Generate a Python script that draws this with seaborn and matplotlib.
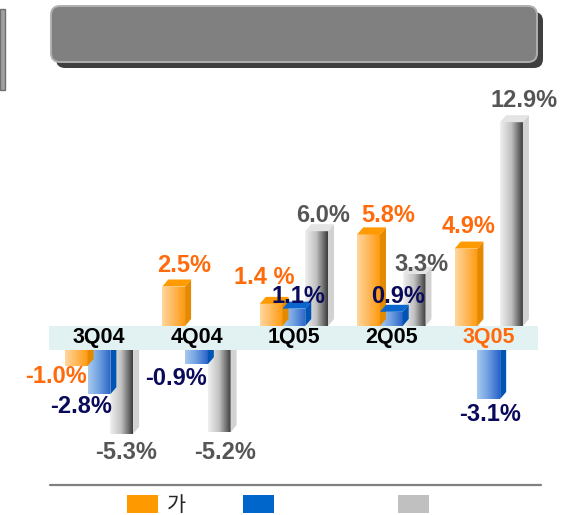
import numpy as np
import pandas as pd
import matplotlib
matplotlib.use("Agg")
import matplotlib.pyplot as plt
import seaborn as sns
from matplotlib.patches import Polygon, Rectangle, FancyBboxPatch, Patch
from matplotlib.colors import LinearSegmentedColormap
from matplotlib.lines import Line2D
from matplotlib.transforms import IdentityTransform

# ---------------- data ----------------
categories = ["3Q04", "4Q04", "1Q05", "2Q05", "3Q05"]
series_keys = ["s1", "s2", "s3"]
legend_names = ["가", "", ""]
orange_vals = [-1.0, 2.5, 1.4, 5.8, 4.9]
blue_vals = [-2.8, -0.9, 1.1, 0.9, -3.1]
gray_vals = [-5.3, -5.2, 6.0, 3.3, 12.9]
orange_labels = ["-1.0%", "2.5%", "1.4 %", "5.8%", "4.9%"]
blue_labels = ["-2.8%", "-0.9%", "1.1%", "0.9%", "-3.1%"]
gray_labels = ["-5.3%", "-5.2%", "6.0%", "3.3%", "12.9%"]

df = pd.DataFrame({
    "quarter": categories * 3,
    "series": np.repeat(series_keys, len(categories)),
    "value": orange_vals + blue_vals + gray_vals,
})
value_labels = [orange_labels, blue_labels, gray_labels]

# ---------------- style ----------------
sns.set_theme(style="white")
plt.rcParams["font.family"] = ["Liberation Sans", "Noto Sans CJK KR", "DejaVu Sans"]

W, H = 562, 515
fig = plt.figure(figsize=(W / 100, H / 100), dpi=100)
fig.patch.set_facecolor("white")

def fx(px):
    return px / W

def fy(py):
    return 1 - py / H

PX_PER_PCT = 15.8
AX_L, AX_R = 49, 538
ZERO_POS, ZERO_NEG = 326, 350
TOP_PX, BOT_PX = 89, 470
cat0_px, cat_step = 99.0, 97.45
xlim = (-(cat0_px - AX_L) / cat_step, 4 + (AX_R - (cat0_px + 4 * cat_step)) / cat_step)

ax_pos = fig.add_axes([fx(AX_L), fy(ZERO_POS), (AX_R - AX_L) / W, (ZERO_POS - TOP_PX) / H])
ax_neg = fig.add_axes([fx(AX_L), fy(BOT_PX), (AX_R - AX_L) / W, (BOT_PX - ZERO_NEG) / H])

front_cmaps = [
    LinearSegmentedColormap.from_list("o", ["#FFD79F", "#FFB85A", "#FF9A10"]),
    LinearSegmentedColormap.from_list("b", ["#A8CBEF", "#6E9EE0", "#2A62C8"]),
    LinearSegmentedColormap.from_list("g", ["#F0F0F0", "#C0C0C0", "#3C3C3C"]),
]
side_colors = ["#E48A00", "#0054B4", "#D2D2D2"]
top_colors = ["#FF9A00", "#0A66CC", "#E4E4E4"]
legend_colors = ["#FF9900", "#0066CC", "#C0C0C0"]
label_colors = ["#FF6A0A", "#0A0A5A", "#555555"]

# label nudges in pixels (dx, dy; dy positive = downward), relative to bar end
label_nudges = [
    [(-20, 11), (10, -21), (-7, -26), (20, -19), (3, -22)],
    [(-18, 12), (-20, 14), (5, -12), (7, -15), (1, 16)],
    [(4, 19), (6, 20), (6, -16), (7, -9), (13, -22)],
]

DX_PX, DY_PX = 6, 7
dxd = DX_PX / cat_step
dyd = DY_PX / PX_PER_PCT

for ax, sign in [(ax_pos, 1), (ax_neg, -1)]:
    sns.barplot(data=df, x="quarter", y="value", hue="series", order=categories,
                hue_order=series_keys, palette=legend_colors, width=0.70,
                saturation=1, legend=False, ax=ax, zorder=2)
    ax.patch.set_alpha(0)
    for s in ax.spines.values():
        s.set_visible(False)
    ax.set_yticks([])
    ax.set_xlabel("")
    ax.set_ylabel("")

    for si, cont in enumerate(ax.containers):
        for ci, bar in enumerate(cont.patches):
            h = bar.get_height()
            if h * sign <= 0:
                bar.set_visible(False)
                continue
            x, w = bar.get_x(), bar.get_width()
            bar.set_facecolor("none")
            bar.set_edgecolor("none")
            grad = np.linspace(0, 1, 128).reshape(1, -1)
            im = ax.imshow(grad, extent=[x, x + w, min(0, h), max(0, h)],
                           cmap=front_cmaps[si], aspect="auto", zorder=2,
                           interpolation="bilinear")
            im.set_clip_path(bar)
            if sign > 0:
                side = Polygon([(x + w, 0), (x + w + dxd, dyd), (x + w + dxd, h + dyd),
                                (x + w, h)], closed=True, facecolor=side_colors[si],
                               edgecolor="none", zorder=2.1)
                top = Polygon([(x, h), (x + dxd, h + dyd), (x + w + dxd, h + dyd),
                               (x + w, h)], closed=True, facecolor=top_colors[si],
                              edgecolor="none", zorder=2.1)
                ax.add_patch(side)
                ax.add_patch(top)
            else:
                side = Polygon([(x + w, 0), (x + w + dxd, 0), (x + w + dxd, h + dyd),
                                (x + w, h)], closed=True, facecolor=side_colors[si],
                               edgecolor="none", zorder=2.1)
                ax.add_patch(side)
            ndx, ndy = label_nudges[si][ci]
            ax.annotate(value_labels[si][ci], xy=(x + w / 2, h),
                        xytext=(ndx * 0.72, -ndy * 0.72), textcoords="offset points",
                        ha="center", va="center", fontsize=17, fontweight="bold",
                        color=label_colors[si], annotation_clip=False, zorder=5)
    ax.set_xlim(*xlim)
    if sign > 0:
        ax.set_ylim(0, (ZERO_POS - TOP_PX) / PX_PER_PCT)
    else:
        ax.set_ylim(-(BOT_PX - ZERO_NEG) / PX_PER_PCT, 0)

# category band (in ax_pos coordinates, below its bottom edge)
band_h = (ZERO_NEG - ZERO_POS) / (ZERO_POS - TOP_PX)
ax_pos.add_patch(Rectangle((0, -band_h), 1, band_h, transform=ax_pos.transAxes,
                           facecolor="#E2F2F2", edgecolor="none", clip_on=False, zorder=0.5))
ax_pos.tick_params(axis="x", length=0, pad=1, labelsize=15.5)
for lab in ax_pos.get_xticklabels():
    lab.set_fontweight("bold")
    lab.set_color("#FF6A0A" if lab.get_text() == "3Q05" else "black")
ax_neg.set_xticks([])

# title box
ident = IdentityTransform()
shadow = FancyBboxPatch((56, H - 68), 487, 56, boxstyle="round,pad=0,rounding_size=9",
                        transform=ident, facecolor="#3F3F3F", edgecolor="none")
face = FancyBboxPatch((51, H - 62), 486, 56, boxstyle="round,pad=0,rounding_size=9",
                      transform=ident, facecolor="#808080", edgecolor="#B0B0B0", linewidth=1.4)
fig.patches.extend([shadow, face])
fig.patches.append(Rectangle((0, H - 90), 5, 81, transform=ident,
                             facecolor="#A0A0A0", edgecolor="#707070", linewidth=1))

# bottom rule
fig.lines.append(Line2D([fx(50), fx(541)], [fy(485), fy(485)], transform=fig.transFigure,
                        color="#808080", linewidth=1.6))

# legend
leg_x = [127, 243, 398]
for i in range(3):
    fig.legend(handles=[Patch(facecolor=legend_colors[i], edgecolor="none")],
               labels=[legend_names[i]], loc="center left",
               bbox_to_anchor=(fx(leg_x[i]), fy(505)), frameon=False,
               borderpad=0, borderaxespad=0, handlelength=1.5, handleheight=1.0,
               handletextpad=0.4,
               prop={"family": ["Noto Sans CJK KR", "DejaVu Sans"], "size": 15})

fig.savefig("out.png", dpi=100)
